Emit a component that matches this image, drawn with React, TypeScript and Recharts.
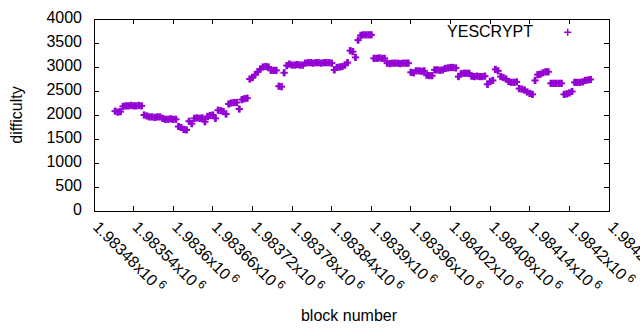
import React from 'react';
import { Legend, ReferenceArea, Scatter, ScatterChart, XAxis, YAxis } from 'recharts';

const SERIES_NAME = 'YESCRYPT';
const COLOR = '#9400d3';
const FONT = '"Liberation Sans", Arial, sans-serif';

// one sample every 4 blocks, starting at block 1983512
const BLOCK_START = 1983512;
const BLOCK_STEP = 4;
const DIFFICULTY = [
  2080, 2060, 2070,
  2180, 2190, 2190, 2200, 2190, 2190, 2200, 2190,
  2000, 1980,
  1960, 1960, 1950, 1960, 1960,
  1930, 1910, 1910, 1920, 1910, 1910,
  1760, 1740, 1700, 1690,
  1870, 1820,
  1930, 1940, 1930, 1940,
  1860,
  1970, 1990, 2000,
  1930,
  2100, 2090, 2070,
  2020,
  2230, 2250, 2260, 2260,
  2125,
  2320, 2340, 2350,
  2750, 2780, 2840, 2900,
  2960, 3000, 3010, 3000,
  2930, 2930, 2930,
  2600, 2590,
  2880,
  3030, 3060, 3040, 3040, 3050, 3040, 3040,
  3080, 3090, 3090, 3080, 3090, 3090, 3080, 3090, 3090, 3090, 3080,
  2940,
  2990, 3000, 3010,
  3040, 3090,
  3340, 3320,
  3200,
  3560,
  3660, 3670, 3670, 3670, 3670,
  3180, 3180, 3190, 3180, 3180,
  3080, 3070, 3080, 3080, 3080, 3070, 3080, 3080, 3080,
  2890, 2880,
  2920, 2920, 2910, 2920,
  2830, 2820, 2820,
  2940, 2940, 2930, 2940,
  2970, 2980, 2990, 2990, 2980,
  2800,
  2860, 2870, 2870, 2870,
  2810, 2800, 2810, 2800, 2800, 2810,
  2640,
  2700, 2720,
  2950, 2920,
  2800, 2780, 2750, 2700,
  2680, 2680, 2690,
  2550, 2540, 2520,
  2480, 2450, 2430,
  2720,
  2840, 2850,
  2880, 2900, 2900,
  2660, 2660, 2660, 2660, 2660,
  2430, 2440, 2460, 2490,
  2680, 2680, 2680, 2690,
  2720, 2730, 2740,
];

const X_TICKS = [
  1983480, 1983540, 1983600, 1983660, 1983720, 1983780, 1983840,
  1983900, 1983960, 1984020, 1984080, 1984140, 1984200, 1984260,
];
const X_TICK_MANTISSA = [
  '1.98348', '1.98354', '1.9836', '1.98366', '1.98372', '1.98378', '1.98384',
  '1.9839', '1.98396', '1.98402', '1.98408', '1.98414', '1.9842', '1.98426',
];
const Y_TICKS = [0, 500, 1000, 1500, 2000, 2500, 3000, 3500, 4000];

const data = DIFFICULTY.map((difficulty, i) => ({
  block: BLOCK_START + i * BLOCK_STEP,
  difficulty,
}));

const PLOT = { left: 94, right: 609, top: 19, bottom: 211 };
const TICK_LEN = 5;
const ARM = 3.6;

function plusPath(cx: number, cy: number, r: number) {
  return `M${cx - r},${cy}H${cx + r}M${cx},${cy - r}V${cy + r}`;
}

// gnuplot-style "+" point; the upright arm is a bit wider so runs of
// consecutive blocks merge into a solid band like in the original plot
const PlusShape = (props: any) => {
  const { cx, cy } = props;
  if (cx == null || cy == null) return null;
  return (
    <g fill={COLOR}>
      <rect x={cx - ARM} y={cy - 1} width={ARM * 2} height={2} />
      <rect x={cx - 1.4} y={cy - ARM} width={2.8} height={ARM * 2} />
    </g>
  );
};

const XTick = (props: any) => {
  const { x, payload } = props;
  const idx = X_TICKS.indexOf(payload.value);
  return (
    <g>
      <line x1={x} x2={x} y1={PLOT.bottom} y2={PLOT.bottom - TICK_LEN} stroke="#000" shapeRendering="crispEdges" />
      <line x1={x} x2={x} y1={PLOT.top} y2={PLOT.top + TICK_LEN} stroke="#000" shapeRendering="crispEdges" />
      <text
        transform={`translate(${x - 2},228) rotate(45)`}
        fontSize={16}
        fontFamily={FONT}
        fill="#000"
      >
        {X_TICK_MANTISSA[idx]}x10
        <tspan dx={3} dy={-6} fontSize={12}>6</tspan>
      </text>
    </g>
  );
};

const YTick = (props: any) => {
  const { y, payload } = props;
  return (
    <g>
      <line x1={PLOT.left} x2={PLOT.left + TICK_LEN} y1={y} y2={y} stroke="#000" shapeRendering="crispEdges" />
      <line x1={PLOT.right - TICK_LEN} x2={PLOT.right} y1={y} y2={y} stroke="#000" shapeRendering="crispEdges" />
      <text x={82} y={y + 4} textAnchor="end" fontSize={16} fontFamily={FONT} fill="#000">
        {payload.value}
      </text>
    </g>
  );
};

const renderLegend = () => (
  <svg width={160} height={24} style={{ display: 'block' }}>
    <text x={103} y={17.3} textAnchor="end" fontSize={16} fontFamily={FONT} fill="#000">
      {SERIES_NAME}
    </text>
    <path d={plusPath(137.7, 12.3, 3.5)} stroke={COLOR} strokeWidth={1.5} fill="none" />
  </svg>
);

export default function App() {
  return (
    <div style={{ position: 'absolute', left: 0, top: 0, width: 640, height: 330, background: '#fff' }}>
      <ScatterChart width={640} height={330} margin={{ top: 19, right: 31, bottom: 0, left: 0 }}>
        <XAxis
          dataKey="block"
          type="number"
          domain={[X_TICKS[0], X_TICKS[X_TICKS.length - 1]]}
          ticks={X_TICKS}
          interval={0}
          allowDataOverflow
          height={119}
          axisLine={false}
          tickLine={false}
          tick={XTick}
          label={() => (
            <text x={349} y={321} textAnchor="middle" fontSize={16} fontFamily={FONT} fill="#000">
              block number
            </text>
          )}
        />
        <YAxis
          dataKey="difficulty"
          type="number"
          domain={[0, 4000]}
          ticks={Y_TICKS}
          interval={0}
          allowDataOverflow
          width={94}
          axisLine={false}
          tickLine={false}
          tick={YTick}
          label={() => (
            <text
              transform="translate(16,115) rotate(-90)"
              textAnchor="middle"
              dominantBaseline="central"
              fontSize={16}
              fontFamily={FONT}
              fill="#000"
            >
              difficulty
            </text>
          )}
        />
        <ReferenceArea
          x1={X_TICKS[0]}
          x2={X_TICKS[X_TICKS.length - 1]}
          y1={0}
          y2={4000}
          fill="none"
          fillOpacity={0}
          stroke="#000"
          strokeWidth={1}
          shapeRendering="crispEdges"
          ifOverflow="visible"
        />
        <Scatter
          name={SERIES_NAME}
          data={data}
          fill={COLOR}
          shape={PlusShape}
          isAnimationActive={false}
        />
        <Legend
          layout="horizontal"
          verticalAlign="middle"
          align="center"
          wrapperStyle={{ top: 20, left: 430, width: 160, height: 24 }}
          content={renderLegend}
        />
      </ScatterChart>
    </div>
  );
}
